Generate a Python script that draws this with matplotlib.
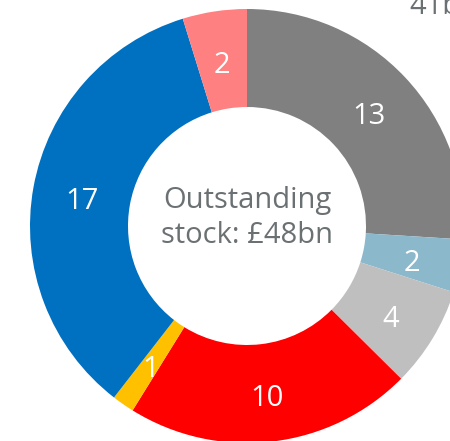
import matplotlib
matplotlib.use("Agg")
import matplotlib.pyplot as plt

# Data (clockwise from 12 o'clock), £bn
categories = ["Grey", "Light blue", "Silver", "Red", "Yellow", "Blue", "Pink"]
values = [12.5, 1.9, 3.6, 10.3, 0.8, 16.7, 2.3]
value_labels = ["13", "2", "4", "10", "1", "17", "2"]
colors = ["#808080", "#8BB8CB", "#BFBFBF", "#FF0000", "#FFC000", "#0070C0", "#FF8080"]
center_text = "Outstanding\nstock: £48bn"
corner_text = "41bn"

W, H = 450, 441
fig = plt.figure(figsize=(W / 100, H / 100), dpi=100)
ax = fig.add_axes([0, 0, 1, 1])
ax.set_xlim(0, W)
ax.set_ylim(0, H)
ax.set_aspect("equal")
ax.axis("off")

cx, cy = 247, H - 226
R, r = 217, 119
lab_iter = iter(value_labels)
wedges, texts, autotexts = ax.pie(
    values, colors=colors, startangle=90, counterclock=False,
    radius=R, center=(cx, cy), frame=True,
    wedgeprops=dict(width=R - r, linewidth=0),
    autopct=lambda p: next(lab_iter), pctdistance=(R + r) / 2 / R,
    textprops=dict(color="white", fontsize=21, family="Open Sans"),
)
for t in autotexts:
    x, y = t.get_position()
    t.set_position((x, y - 6))
ax.set_xlim(0, W)
ax.set_ylim(0, H)
ax.axis("off")

ax.text(cx, cy + 8, center_text, ha="center", va="center", fontsize=21,
        color="#6B7173", family="Open Sans", linespacing=1.27)
ax.text(409, H - 14, corner_text, ha="left", va="baseline", fontsize=21,
        color="#6B7173", family="Open Sans")

fig.savefig("out.png", dpi=100)
